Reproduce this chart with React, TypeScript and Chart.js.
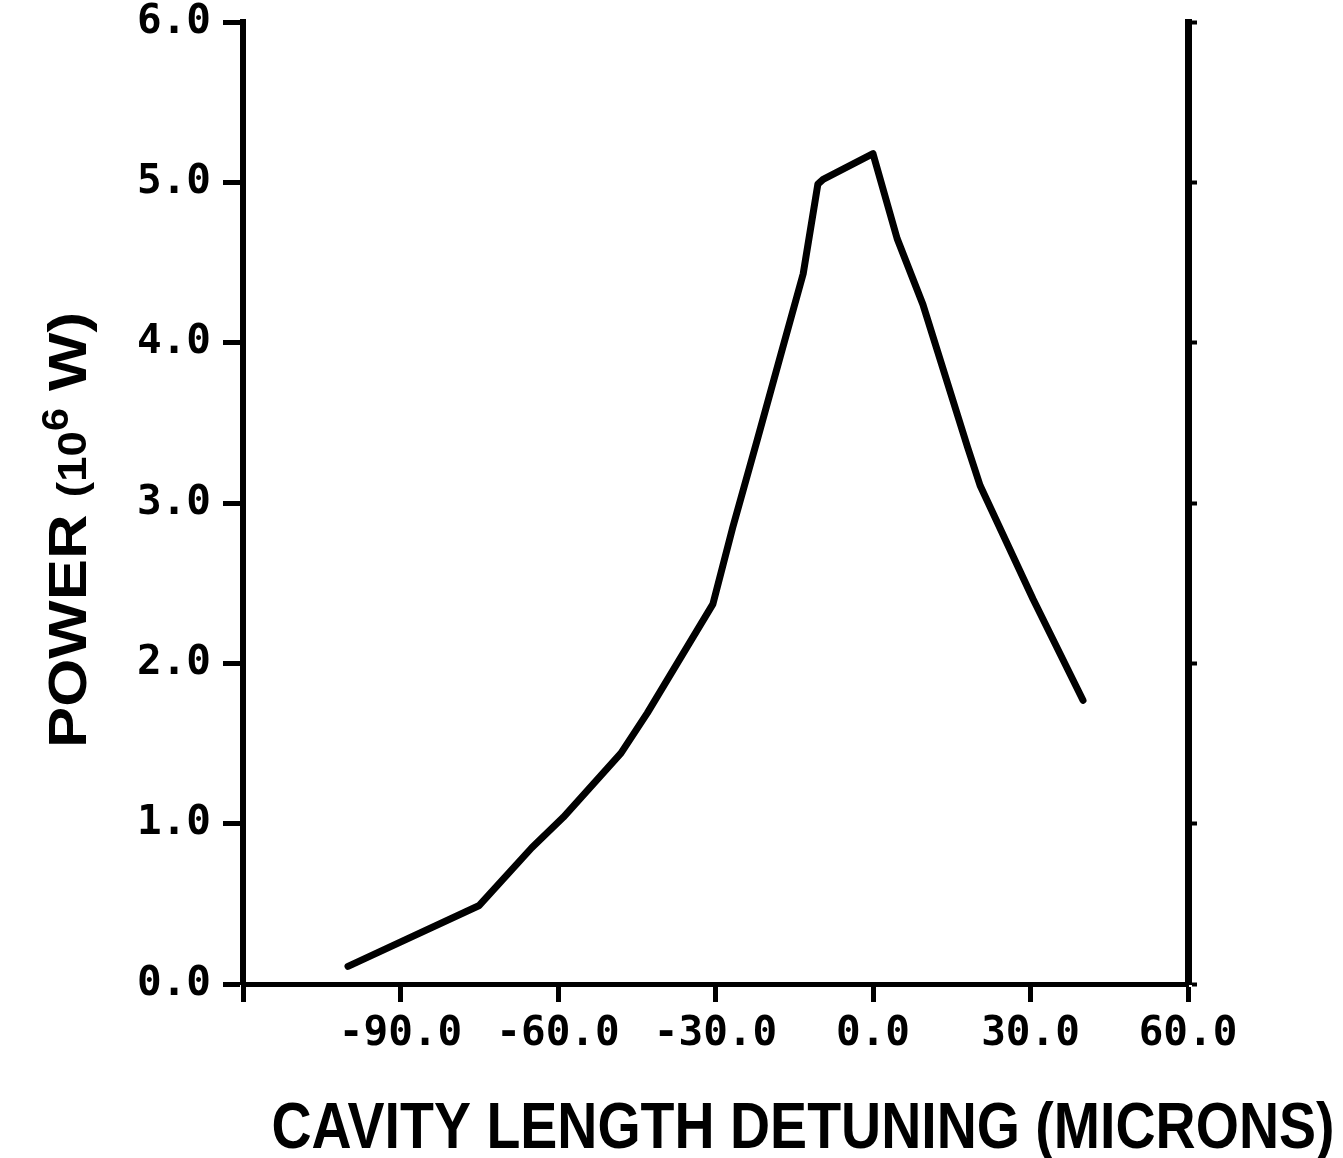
import React, { useEffect, useRef } from "react";
import { Chart, registerables } from "chart.js";

Chart.register(...registerables);

const detuning = [-100, -75, -65, -59, -48, -43, -30.5, -26.7, -22, -17.7, -13.3, -10.5, -9.5, 0, 4.6, 9.5, 18, 20.4, 30.5, 40];
const power = [0.11, 0.49, 0.85, 1.04, 1.44, 1.69, 2.37, 2.85, 3.4, 3.91, 4.43, 4.99, 5.02, 5.18, 4.65, 4.24, 3.35, 3.11, 2.4, 1.77];
const xTicks = [-120, -90, -60, -30, 0, 30, 60];
const yTicks = [0, 1, 2, 3, 4, 5, 6];
const xTitle = "CAVITY LENGTH DETUNING (MICRONS)";
const yTitleParts = ["POWER ", "(10", "6", " W)"];

const W = 1343;
const H = 1158;
const LEFT = 243;
const RIGHT = 1188;
const TOP = 22;
const BOTTOM = 984;

const xTickFont = { family: '"DejaVu Sans Mono"', size: 41, weight: "bold" as const, lineHeight: 1 };
const yTickFont = { family: '"DejaVu Sans Mono"', size: 41, weight: "bold" as const, lineHeight: 0.5 };

const titlesPlugin = {
  id: "titles",
  afterDraw(chart: any) {
    const ctx = chart.ctx as CanvasRenderingContext2D;
    ctx.save();
    ctx.fillStyle = "#000";
    // X title
    ctx.font = 'bold 64px "Liberation Sans"';
    const w = ctx.measureText(xTitle).width;
    const sx = 1063 / w;
    ctx.translate(803, 1148);
    ctx.scale(sx, 1);
    ctx.textAlign = "center";
    ctx.textBaseline = "alphabetic";
    ctx.fillText(xTitle, 0, 0);
    ctx.restore();

    // Y title with superscript
    ctx.save();
    ctx.fillStyle = "#000";
    const fonts = [
      'bold 54px "Liberation Sans"',
      'bold 40px "Liberation Sans"',
      'bold 36px "Liberation Sans"',
      'bold 54px "Liberation Sans"',
    ];
    const shifts = [0, 0, -18, 0];
    const widths = yTitleParts.map((t, i) => {
      ctx.font = fonts[i];
      return ctx.measureText(t).width;
    });
    const total = widths.reduce((a, b) => a + b, 0);
    const s = 436 / total;
    ctx.translate(86, 748);
    ctx.rotate(-Math.PI / 2);
    ctx.scale(s, 1);
    ctx.textAlign = "left";
    ctx.textBaseline = "alphabetic";
    let u = 0;
    yTitleParts.forEach((t, i) => {
      ctx.font = fonts[i];
      ctx.fillText(t, u, shifts[i]);
      u += widths[i];
    });
    ctx.restore();
  },
};

export default function App() {
  const ref = useRef<HTMLCanvasElement | null>(null);

  useEffect(() => {
    if (!ref.current) return;
    const chart = new Chart(ref.current, {
      type: "line",
      data: {
        datasets: [
          {
            data: detuning.map((x, i) => ({ x, y: power[i] })),
            borderColor: "#000",
            borderWidth: 7,
            pointRadius: 0,
            tension: 0,
            borderCapStyle: "round",
            borderJoinStyle: "round",
            fill: false,
          },
        ],
      },
      options: {
        animation: false,
        responsive: false,
        layout: { padding: { top: TOP, left: 0, right: 0, bottom: 0 } },
        plugins: { legend: { display: false }, tooltip: { enabled: false } },
        scales: {
          x: {
            type: "linear",
            min: -120,
            max: 60,
            afterBuildTicks: (scale: any) => {
              scale.ticks = xTicks.map((v) => ({ value: v }));
            },
            afterFit: (scale: any) => {
              scale.height = H - BOTTOM;
            },
            ticks: {
              color: "#000",
              font: xTickFont,
              padding: 12,
              maxRotation: 0,
              autoSkip: false,
              callback: (v: any) => (v === -120 ? "" : Number(v).toFixed(1)),
            },
            grid: {
              drawOnChartArea: false,
              drawTicks: true,
              tickLength: 18,
              tickColor: "#000",
              tickWidth: 5,
            },
            border: { display: true, color: "#000", width: 5 },
          },
          y: {
            type: "linear",
            position: "left",
            min: 0,
            max: 6,
            afterBuildTicks: (scale: any) => {
              scale.ticks = yTicks.map((v) => ({ value: v }));
            },
            afterFit: (scale: any) => {
              scale.width = LEFT;
            },
            ticks: {
              color: "#000",
              font: yTickFont,
              padding: 12,
              callback: (v: any) => Number(v).toFixed(1),
            },
            grid: {
              drawOnChartArea: false,
              drawTicks: true,
              tickLength: 20,
              tickColor: "#000",
              tickWidth: 5,
            },
            border: { display: true, color: "#000", width: 6 },
          },
          y2: {
            type: "linear",
            position: "right",
            min: 0,
            max: 6,
            afterBuildTicks: (scale: any) => {
              scale.ticks = yTicks.map((v) => ({ value: v }));
            },
            afterFit: (scale: any) => {
              scale.width = W - RIGHT;
            },
            ticks: { display: false },
            grid: {
              drawOnChartArea: false,
              drawTicks: true,
              tickLength: 9,
              tickColor: "#000",
              tickWidth: 4,
            },
            border: { display: true, color: "#000", width: 7 },
          },
        },
      } as any,
      plugins: [titlesPlugin],
    });
    return () => chart.destroy();
  }, []);

  return (
    <div style={{ position: "absolute", left: 0, top: 0, width: W, height: H, background: "#fff" }}>
      <canvas ref={ref} width={W} height={H} style={{ display: "block" }} />
    </div>
  );
}
